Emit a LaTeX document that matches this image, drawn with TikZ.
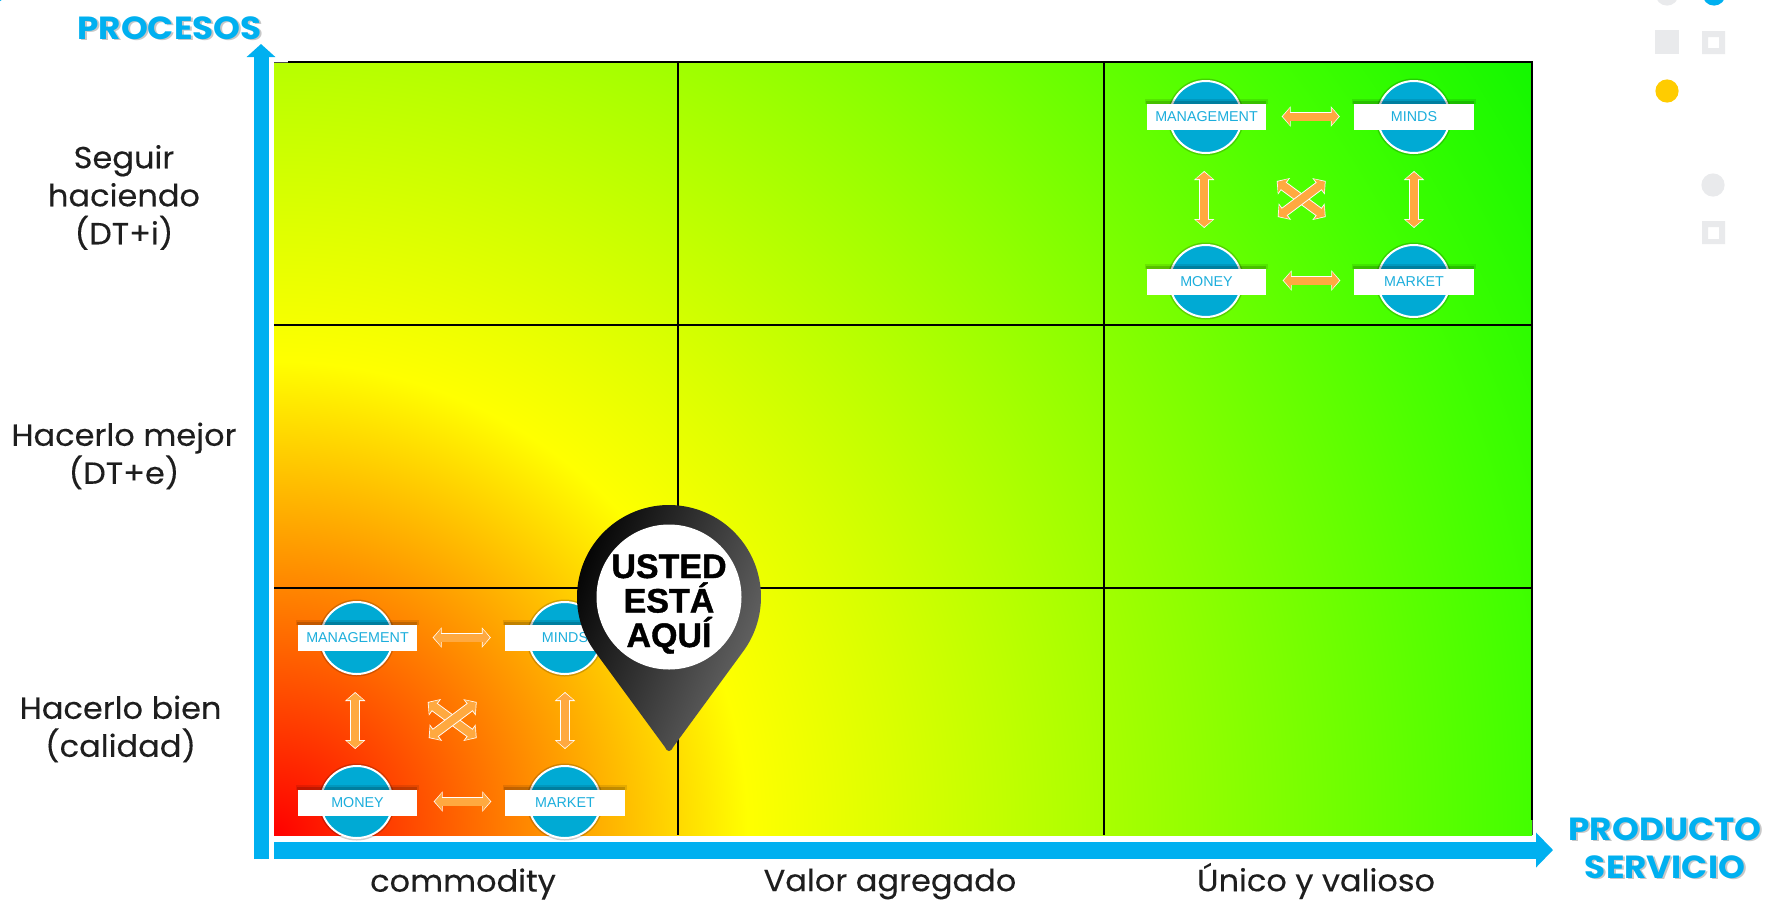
\documentclass[tikz,border=0pt]{standalone}
\usepackage{fontspec}
\usetikzlibrary{arrows.meta,calc}
\setmainfont{Liberation Sans}
\newfontfamily\labfont[FakeStretch=1.05,FakeBold=0.25]{Poppins}
\newfontfamily\titlefont[FakeStretch=1.07]{Poppins}
\newfontfamily\pinfont[BoldFeatures={FakeBold=1.2}]{Liberation Sans}
\definecolor{axisblue}{RGB}{0,176,240}
\definecolor{disc}{RGB}{0,170,212}
\definecolor{boxtext}{RGB}{28,174,220}
\definecolor{arrowor}{RGB}{255,169,64}
\definecolor{deco}{RGB}{233,234,236}
\definecolor{decoy}{RGB}{255,204,0}
\definecolor{labtext}{RGB}{30,30,30}
\pgfdeclareradialshading{bggrad}{\pgfpoint{0bp}{0bp}}{%
  rgb(0bp)=(1,0,0);
  rgb(4bp)=(1,0.5,0);
  rgb(8bp)=(1,1,0);
  rgb(13bp)=(0.72,1,0);
  rgb(21.25bp)=(0.26,1,0);
  rgb(25bp)=(0.07,0.97,0);
  rgb(50bp)=(0.07,0.97,0)}
\tikzset{
  x=1pt,y=-1pt,
  gridline/.style={draw=black,line width=2pt},
  disc node/.style={circle,draw=white,line width=2pt,fill=disc,minimum size=72pt,inner sep=0pt},
  label box/.style={rectangle,fill=white,minimum width=119pt,minimum height=26pt,inner sep=0pt,text=boxtext,font=\fontsize{14.3}{16}\selectfont},
  axis line/.style={draw=axisblue,fill=axisblue},
  side label/.style={align=center,text=labtext,inner sep=0pt,font=\labfont\fontsize{30.5}{38}\selectfont},
  axis title/.style={align=center,text=axisblue,inner sep=0pt,font=\titlefont\bfseries\fontsize{32}{38}\selectfont},
  title shadow/.style={align=center,text=black,opacity=.22,inner sep=0pt,font=\titlefont\bfseries\fontsize{32}{38}\selectfont},
}
\newcommand{\dblarrow}[2]{%
  \draw[white,line width=9.8pt,{Triangle[length=9pt,width=20pt]}-{Triangle[length=9pt,width=20pt]}] #1 -- #2;
  \draw[arrowor,line width=8pt,shorten <=1.1pt,shorten >=1.1pt,{Triangle[length=7pt,width=16.5pt]}-{Triangle[length=7pt,width=16.5pt]}] #1 -- #2;
}
\newcommand{\barshadow}[2]{%
  \fill[black,opacity=.1] ([shift={(-2,-5)}]#1) rectangle ([shift={(2,0)}]#2);
  \fill[black,opacity=.16] ([shift={(-1,-3)}]#1) rectangle (#2);
}
\newcommand{\mgroup}[3]{%
\begin{scope}[shift={(#2,#3)}]
  \foreach \nm/\cx/\cy in {a/356.7/638,b/564.7/638,c/356.7/802,d/564.7/802}{
    \coordinate (#1\nm p) at (\cx,\cy);
    \fill[black,opacity=.18] (#1\nm p) circle[radius=38.5];
  }
  \node[disc node] (#1a) at (#1ap) {};
  \node[disc node] (#1b) at (#1bp) {};
  \node[disc node] (#1c) at (#1cp) {};
  \node[disc node] (#1d) at (#1dp) {};
  \coordinate (#1ta) at (298,625); \coordinate (#1tb) at (417,625);
  \coordinate (#1tc) at (505,625); \coordinate (#1td) at (625,625);
  \coordinate (#1te) at (298,790); \coordinate (#1tf) at (417,790);
  \coordinate (#1tg) at (505,790); \coordinate (#1th) at (625,790);
  \barshadow{#1ta}{#1tb}
  \barshadow{#1tc}{#1td}
  \barshadow{#1te}{#1tf}
  \barshadow{#1tg}{#1th}
  \node[label box] (#1A) at (357.5,638) {MANAGEMENT};
  \node[label box,minimum width=120pt] (#1B) at (565,638) {MINDS};
  \node[label box] (#1C) at (357.5,803) {MONEY};
  \node[label box,minimum width=120pt] (#1D) at (565,803) {MARKET};
  \dblarrow{([shift={(15.5,-0.5)}]#1A.east)}{([shift={(-14,-0.5)}]#1B.west)}
  \dblarrow{([shift={(16.5,-1.5)}]#1C.east)}{([shift={(-13.5,-1.5)}]#1D.west)}
  \dblarrow{([shift={(-1.5,17)}]#1a.south)}{([shift={(-1.5,-16)}]#1c.north)}
  \dblarrow{([shift={(0.3,17)}]#1b.south)}{([shift={(0.3,-16)}]#1d.north)}
  \dblarrow{([shift={(71,64)}]#1a.center)}{([shift={(-88,-64)}]#1d.center)}
  \dblarrow{([shift={(72,100)}]#1a.center)}{([shift={(-88,-100)}]#1d.center)}
\end{scope}
}
\begin{document}
\begin{tikzpicture}
\useasboundingbox (0,0) rectangle (1768,908);
\begin{scope}
\clip (0,0) rectangle (1768,908);
\fill[white] (0,0) rectangle (1768,908);
% decoration, top right
\fill[deco] (1667,-6) circle[radius=11.6];
\fill[axisblue] (1714,-6) circle[radius=11.6];
\fill[axisblue] (-6,-9) circle[radius=12];
\fill[deco] (1655,30) rectangle (1679,54);
\fill[deco,even odd rule] (1702,31) rectangle (1725,54) (1708,37) rectangle (1719,48);
\fill[decoy] (1667,91) circle[radius=11.6];
\fill[deco] (1713,185) circle[radius=11.6];
\fill[deco,even odd rule] (1702,221) rectangle (1725,244) (1708,227) rectangle (1719,239);
% gradient field
\begin{scope}
\clip (274,63) rectangle (1532,835);
\shade[shading=bggrad] (274,835) circle[radius=1480];
\end{scope}
% grid
\draw[gridline] (288,62) -- (1532,62) -- (1532,820);
\draw[black!70,line width=.7pt] (274,62) -- (288,62);
\draw[black!70,line width=.7pt] (1532,820) -- (1532,835);
\draw[gridline] (678,62) -- (678,835);
\draw[gridline] (1104,62) -- (1104,835);
\draw[gridline] (274,325) -- (1532,325);
\draw[gridline] (274,588) -- (1532,588);
% groups
\mgroup{p}{0}{0}
\mgroup{q}{849}{-521}
% axes
\coordinate (ya) at (261,859); \coordinate (yb) at (261,44);
\coordinate (xa) at (274,850); \coordinate (xb) at (1553,850);
\draw[axis line,line width=15pt,-{Triangle[length=13pt,width=28pt]}] (ya) -- (yb);
\draw[axis line,line width=17pt,-{Triangle[length=17pt,width=34pt]}] (xa) -- (xb);
% pin
\begin{scope}[shift={(669,597)},yscale=-1]
\shade[left color=black,middle color=black,right color=black!58,shading angle=68]
  (-75,-53.3) arc[start angle=215.4,end angle=-35.4,radius=92]
  -- (4.5,-149.5) .. controls (2,-155.5) and (-2,-155.5) .. (-4.5,-149.5) -- cycle;
\fill[white] (0,0) circle[radius=72.5];
\end{scope}
\node[align=center,inner sep=0pt,font=\pinfont\bfseries\fontsize{34}{34.5}\selectfont] (pintext) at (669,604) {USTED\\ESTÁ\\AQUÍ};
% labels
\node[side label] (l1) at (124,197.5) {Seguir\\haciendo\\(DT+i)};
\node[side label] (l2) at (124,456) {Hacerlo mejor\\(DT+e)};
\node[side label] (l3) at (120.6,729) {Hacerlo bien\\(calidad)};
\node[side label] (l4) at (463,884) {commodity};
\node[side label] (l5) at (890,884) {Valor agregado};
\node[side label] (l6) at (1316,881) {Único y valioso};
\node[title shadow] (s1) at (171.5,29.5) {PROCESOS};
\node[title shadow] (s2) at (1667,849.5) {PRODUCTO\\SERVICIO};
\node[axis title] (t1) at (169.5,28) {PROCESOS};
\node[axis title] (t2) at (1665,848) {PRODUCTO\\SERVICIO};
\end{scope}
\end{tikzpicture}
\end{document}
